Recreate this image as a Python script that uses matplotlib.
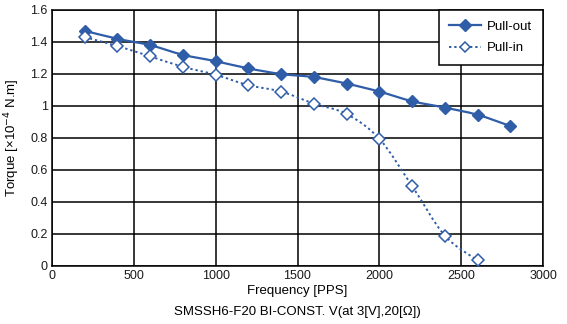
import numpy as np
import matplotlib
matplotlib.use("Agg")
import matplotlib.pyplot as plt
from matplotlib.path import Path
from matplotlib.patches import PathPatch
from matplotlib.lines import Line2D

plt.rcParams['font.family'] = ['Liberation Sans', 'DejaVu Sans']
plt.rcParams['font.size'] = 9

# torque curves, SMSSH6-F20
freq_out = [200, 400, 600, 800, 1000, 1200, 1400, 1600, 1800, 2000, 2200, 2400, 2600, 2800]
pull_out = [1.47, 1.42, 1.38, 1.32, 1.28, 1.235, 1.20, 1.18, 1.14, 1.09, 1.03, 0.99, 0.945, 0.875]

freq_in = [200, 400, 600, 800, 1000, 1200, 1400, 1600, 1800, 2000, 2200, 2400, 2600]
pull_in = [1.43, 1.375, 1.31, 1.245, 1.195, 1.13, 1.09, 1.015, 0.95, 0.795, 0.50, 0.19, 0.035]

BLUE = '#2F5DA8'


def smooth_path(x, y, t=1/6):
    # cubic bezier through every point (catmull-rom style tangents)
    x = np.asarray(x, float)
    y = np.asarray(y, float)
    verts = [(x[0], y[0])]
    codes = [Path.MOVETO]
    n = len(x)
    for i in range(n - 1):
        x0, y0 = (x[i - 1], y[i - 1]) if i > 0 else (x[i], y[i])
        x3, y3 = (x[i + 2], y[i + 2]) if i + 2 < n else (x[i + 1], y[i + 1])
        c1 = (x[i] + (x[i + 1] - x0) * t, y[i] + (y[i + 1] - y0) * t)
        c2 = (x[i + 1] - (x3 - x[i]) * t, y[i + 1] - (y3 - y[i]) * t)
        verts += [c1, c2, (x[i + 1], y[i + 1])]
        codes += [Path.CURVE4] * 3
    return Path(verts, codes)


fig = plt.figure(figsize=(5.67, 3.24), dpi=100)
ax = fig.add_axes([52 / 567, 58 / 324, 491 / 567, 256 / 324])

ax.add_patch(PathPatch(smooth_path(freq_out, pull_out), fill=False,
                       edgecolor=BLUE, lw=1.6, zorder=3))
ax.add_patch(PathPatch(smooth_path(freq_in, pull_in), fill=False,
                       edgecolor=BLUE, lw=1.4, linestyle=(0, (1.2, 1.5)), zorder=3))
ax.plot(freq_out, pull_out, ls='none', marker='D', ms=6.5, color=BLUE, zorder=4)
ax.plot(freq_in, pull_in, ls='none', marker='D', ms=6, mfc='white',
        mec=BLUE, mew=1.1, zorder=4)

ax.set_xlim(0, 3000)
ax.set_ylim(0, 1.6)
ax.set_xticks(np.arange(0, 3001, 500))
ax.set_yticks(np.arange(0, 1.61, 0.2))
ax.set_yticklabels(['0', '0.2', '0.4', '0.6', '0.8', '1', '1.2', '1.4', '1.6'])
ax.grid(True, color='black', lw=1.1)
ax.set_axisbelow(True)
ax.tick_params(length=0, pad=3, colors='#1a1a1a')
for s in ax.spines.values():
    s.set_color('black')
    s.set_linewidth(1.1)

ax.set_xlabel('Frequency [PPS]', fontsize=9.5, labelpad=2)
ax.set_ylabel('Torque [×10$^{-4}$ N.m]', fontsize=9.5, labelpad=6)
fig.text(297 / 567, 12 / 324, 'SMSSH6-F20 BI-CONST. V(at 3[V],20[Ω])',
         ha='center', va='center', fontsize=9.5)

handles = [
    Line2D([], [], color=BLUE, lw=1.6, marker='D', ms=6),
    Line2D([], [], color=BLUE, lw=1.4, ls=(0, (1.2, 1.5)), marker='D', ms=5.5,
           mfc='white', mec=BLUE, mew=1.1),
]
leg = ax.legend(handles, ['Pull-out', 'Pull-in'], loc='upper right',
                bbox_to_anchor=(1.0, 1.0), borderaxespad=0, fancybox=False,
                framealpha=1, edgecolor='black', fontsize=9.5,
                handlelength=2.4, handletextpad=0.5, borderpad=0.8,
                labelspacing=0.7)
leg.get_frame().set_linewidth(1.1)

fig.savefig('out.png', dpi=100)
